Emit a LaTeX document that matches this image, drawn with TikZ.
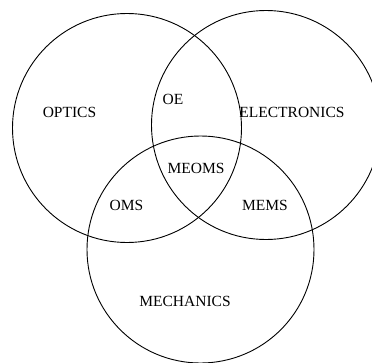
\documentclass[tikz,border=0pt]{standalone}
\usepackage{fontspec}
\setmainfont{Liberation Serif}
\usetikzlibrary{positioning}

\begin{document}
\begin{tikzpicture}[
    x=1pt, y=-1pt,
    set/.style={circle, draw, line width=0.9pt, minimum size=229pt, inner sep=0pt},
    area/.style={anchor=base, inner sep=0pt, font=\fontsize{15.5}{18}\selectfont}
]
\useasboundingbox (0,0) rectangle (372,362);

% Circles
\node[set] (optics) at (127,128) {};
\node[set] (electronics) at (266,125) {};
\node[set, minimum size=227pt] (mechanics) at (200.5,249.5) {};

% Labels
\node[area] (optlabel) at (69.5,117) {OPTICS};
\node[area] (oe) at (173,104) {OE};
\node[area] (eleclabel) at (292,117.5) {ELECTRONICS};
\node[area] (meoms) at (196,173.5) {MEOMS};
\node[area] (oms) at (126.5,210) {OMS};
\node[area] (mems) at (265,210) {MEMS};
\node[area] (mechlabel) at (185,306.5) {MECHANICS};

\end{tikzpicture}
\end{document}
